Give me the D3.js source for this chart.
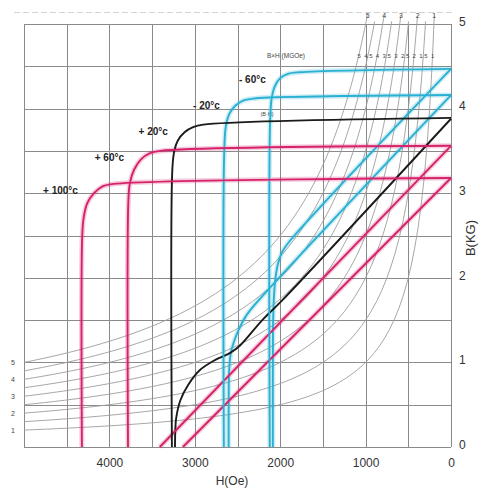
<!DOCTYPE html>
<html>
<head>
<meta charset="utf-8">
<script src="https://cdn.jsdelivr.net/npm/d3@7"></script>
<style>
  body { margin: 0; background: #fff; }
  svg { display: block; font-family: "Liberation Sans", Arial, sans-serif; }
</style>
</head>
<body>
<svg id="chart" width="482" height="488"></svg>
<script>
// Demagnetization curves of a ferrite magnet at several temperatures.
// H in Oe (increasing to the left), B in kG.

const temperatureLabels = ["- 60°c", "- 20°c", "+ 20°c", "+ 60°c", "+ 100°c"];
const temperatureColors = ["#29b0d2", "#29b0d2", "#1b1b1b", "#d6226a", "#d6226a"];

// Intrinsic (J) curves: [H, B]
const intrinsicM60 = [[0, 4.47], [1770, 4.43], [1910, 4.41], [2000, 4.36], [2060, 4.27], [2100, 4.12], [2118, 3.85], [2122, 0]];
const intrinsicM20 = [[0, 4.16], [2300, 4.12], [2420, 4.10], [2520, 4.04], [2590, 3.95], [2635, 3.80], [2655, 3.50], [2660, 0]];
const intrinsicP20 = [[0, 3.89], [2900, 3.81], [3020, 3.78], [3120, 3.72], [3200, 3.62], [3240, 3.50], [3262, 3.30], [3268, 0]];
const intrinsicP60 = [[0, 3.56], [3400, 3.50], [3530, 3.47], [3630, 3.40], [3710, 3.28], [3760, 3.12], [3778, 2.90], [3782, 0]];
const intrinsicP100 = [[0, 3.18], [3950, 3.11], [4080, 3.08], [4180, 3.00], [4260, 2.88], [4300, 2.72], [4318, 2.50], [4322, 0]];

// Normal (B) curves: [H, B]
const normalM60 = [[0, 4.47], [1900, 2.42], [1980, 2.30], [2030, 2.15], [2065, 1.90], [2080, 1.60], [2085, 1.30], [2086, 0]];
const normalM20 = [[0, 4.16], [2300, 1.68], [2400, 1.55], [2480, 1.40], [2540, 1.25], [2580, 1.10], [2598, 0.90], [2603, 0.60], [2604, 0]];
const normalP20 = [[0, 3.88], [1980, 1.73], [2210, 1.50], [2470, 1.20], [2590, 1.11], [2760, 1.03], [2940, 0.91], [3080, 0.73], [3170, 0.55], [3218, 0.34], [3230, 0.14], [3232, 0]];
const normalP60 = [[0, 3.56], [3410, 0]];
const normalP100 = [[0, 3.18], [3140, 0]];

const intrinsicCurves = [intrinsicM60, intrinsicM20, intrinsicP20, intrinsicP60, intrinsicP100];
const normalCurves = [normalM60, normalM20, normalP20, normalP60, normalP100];

// Constant energy product lines B·H (MGOe)
const energyProducts = [1, 1.5, 2, 2.5, 3, 3.5, 4, 4.5, 5];
const energyMajor = [1, 2, 3, 4, 5];

const hTicks = [4000, 3000, 2000, 1000, 0];
const bTicks = [0, 1, 2, 3, 4, 5];

const svg = d3.select("#chart");
const x = d3.scaleLinear().domain([5000, 0]).range([24, 451]);
const y = d3.scaleLinear().domain([0, 5]).range([447, 24]);

// grid
const grid = svg.append("g").attr("stroke", "#8a8a8a").attr("stroke-width", 1);
grid.selectAll("line.v").data(d3.range(0, 5001, 500)).join("line")
  .attr("x1", d => Math.round(x(d)) + 0.5).attr("x2", d => Math.round(x(d)) + 0.5)
  .attr("y1", y(0)).attr("y2", y(5));
grid.selectAll("line.h").data(d3.range(0, 5.001, 0.5)).join("line")
  .attr("y1", d => Math.round(y(d)) + 0.5).attr("y2", d => Math.round(y(d)) + 0.5)
  .attr("x1", x(5000)).attr("x2", x(0));

// faint rule above the plot
svg.append("line").attr("x1", 14).attr("x2", 452).attr("y1", 12.5).attr("y2", 12.5)
  .attr("stroke", "#d4d4d4").attr("stroke-dasharray", "6,3");

// energy product hyperbolas
const hyper = svg.append("g").attr("fill", "none").attr("stroke", "#9d9d9d").attr("stroke-width", 0.9);
const hyperLine = d3.line().x(d => x(d[0])).y(d => y(d[1]));
energyProducts.forEach(e => {
  const bTop = energyMajor.includes(e) ? 5.1 : 5.03;
  const hStart = e / bTop * 1000;
  const pts = d3.range(0, 61).map(i => {
    const h = hStart + (5000 - hStart) * Math.pow(i / 60, 1.6);
    return [h, e * 1000 / h];
  });
  hyper.append("path").attr("d", hyperLine(pts));
});

// labels of the hyperbolas
const small = svg.append("g").attr("fill", "#444").attr("font-size", 7).attr("text-anchor", "middle");
energyMajor.forEach(e => {
  small.append("text").attr("x", 13).attr("y", y(e / 5)).attr("dy", "0.35em").text(e);
  small.append("text").attr("x", x(e * 1000 / 5.12)).attr("y", 16).attr("dy", "0.35em").text(e);
});
const rowB = 4.65;
energyProducts.slice().reverse().forEach(e => {
  small.append("text").attr("x", x(e * 1000 / rowB)).attr("y", y(rowB) + 2)
    .attr("font-size", 6).attr("dy", "0.35em").text(String(e));
});
small.append("text").attr("x", 286).attr("y", y(rowB) + 2).attr("font-size", 6.5)
  .attr("dy", "0.35em").text("B×H (MGOe)");
small.append("text").attr("x", 267).attr("y", 114).attr("font-size", 5.5)
  .attr("dy", "0.35em").text("(B·H)");

// curves
const curveLine = d3.line().x(d => x(d[0])).y(d => y(d[1])).curve(d3.curveCatmullRom.alpha(0.5));
const halo = svg.append("g").attr("fill", "none").attr("stroke-width", 5).attr("opacity", 0.22);
const curves = svg.append("g").attr("fill", "none").attr("stroke-width", 1.9);
[...normalCurves, ...intrinsicCurves].forEach((c, i) => {
  const color = temperatureColors[i % 5];
  if (color !== "#1b1b1b") {
    halo.append("path").attr("d", curveLine(c)).attr("stroke", color);
  }
});
[...normalCurves, ...intrinsicCurves].forEach((c, i) => {
  curves.append("path").attr("d", curveLine(c)).attr("stroke", temperatureColors[i % 5]);
});

// temperature labels beside each knee
const tl = svg.append("g").attr("fill", "#222").attr("font-size", 10).attr("font-weight", "bold")
  .attr("text-anchor", "end");
intrinsicCurves.forEach((c, i) => {
  const hc = c[c.length - 1][0];
  tl.append("text").attr("x", x(hc) - 4).attr("y", y(c[1][1]) + 7)
    .attr("dy", "0.35em").text(temperatureLabels[i]);
});

// axes
const xAxis = svg.append("g").attr("transform", `translate(0,${y(0)})`)
  .call(d3.axisBottom(x).tickValues(hTicks).tickSize(0).tickPadding(11).tickFormat(d3.format("d")));
const yAxis = svg.append("g").attr("transform", `translate(${x(0)},0)`)
  .call(d3.axisRight(y).tickValues(bTicks).tickSize(0).tickPadding(8).tickFormat(d3.format("d")));
[xAxis, yAxis].forEach(a => {
  a.select(".domain").remove();
  a.selectAll("text").attr("font-size", 12).attr("fill", "#333")
    .attr("font-family", "\"Liberation Sans\", Arial, sans-serif");
});
yAxis.selectAll("text").attr("dy", "0.1em");

svg.append("text").attr("x", 232).attr("y", 485).attr("text-anchor", "middle")
  .attr("font-size", 12).attr("fill", "#333").text("H(Oe)");
svg.append("text").attr("transform", "translate(475,238) rotate(-90)").attr("text-anchor", "middle")
  .attr("font-size", 13).attr("fill", "#333").text("B(KG)");
</script>
</body>
</html>
